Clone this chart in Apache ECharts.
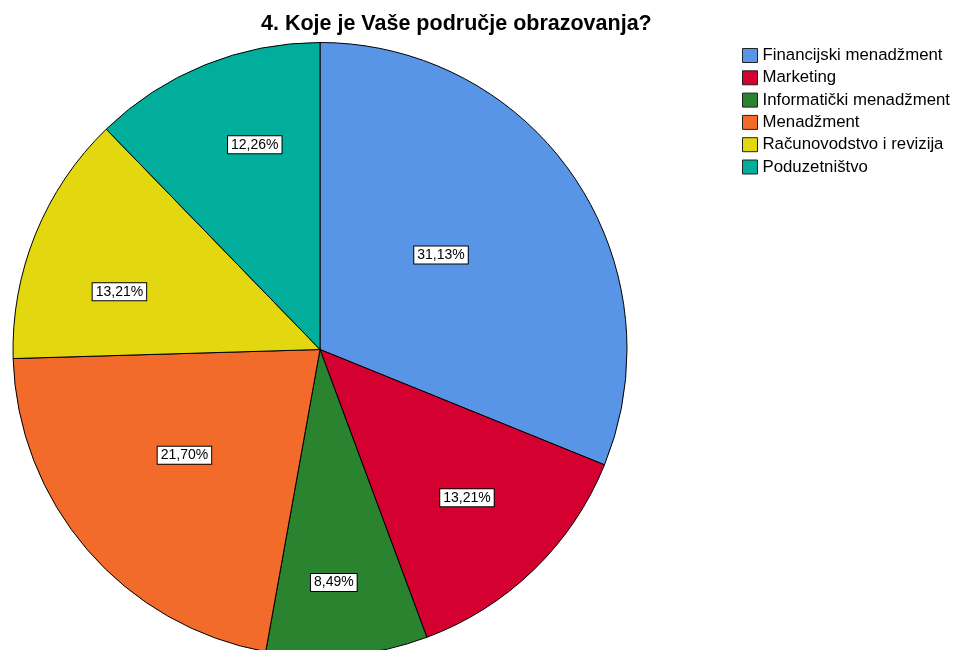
<!DOCTYPE html>
<html>
<head>
<meta charset="utf-8">
<script src="https://cdn.jsdelivr.net/npm/echarts@6/dist/echarts.min.js"></script>
<style>html,body{margin:0;padding:0;background:#fff;}#c{width:959px;height:650px;}</style>
</head>
<body>
<div id="c"></div>
<script>
var titleText = '4. Koje je Vaše područje obrazovanja?';
var categories = ['Financijski menadžment', 'Marketing', 'Informatički menadžment', 'Menadžment', 'Računovodstvo i revizija', 'Poduzetništvo'];
var percentages = [31.13, 13.21, 8.49, 21.70, 13.21, 12.26];

// styles (kept separate from data)
var colors = ['#5895E6', '#D40030', '#2A832E', '#F26B2B', '#E3D70F', '#00AE9B'];
var labelRadiusFrac = [0.50, 0.68, 0.76, 0.56, 0.68, 0.70];
var labelAngleOffsetDeg = [-4, -0.6, 1.7, 2.8, -6, 4.4];
var CX = 320, CY = 349.5, R = 307;

var total = percentages.reduce(function (a, b) { return a + b; }, 0);
var cum = [];
var acc = 0;
for (var i = 0; i < percentages.length; i++) { cum.push(acc + percentages[i] / 2); acc += percentages[i]; }

var chart = echarts.init(document.getElementById('c'), null, { renderer: 'canvas' });
chart.setOption({
  animation: false,
  backgroundColor: '#ffffff',
  title: {
    text: titleText,
    left: 261, top: 13, padding: 0,
    textStyle: { fontFamily: 'Liberation Sans, Arial, sans-serif', fontWeight: 'bold', fontSize: 21.5, color: '#000' }
  },
  legend: {
    orient: 'vertical',
    left: 742, top: 47, padding: 0,
    itemWidth: 15, itemHeight: 14, itemGap: 5.3,
    icon: 'rect',
    textStyle: { fontFamily: 'Liberation Sans, Arial, sans-serif', fontSize: 16.8, lineHeight: 16, color: '#000', padding: [0, 0, 0, 0] },
    itemStyle: { borderColor: '#222', borderWidth: 1 },
    data: categories
  },
  series: [{
    type: 'pie',
    center: [CX, CY],
    radius: R,
    startAngle: 90,
    clockwise: true,
    avoidLabelOverlap: false,
    itemStyle: { borderColor: '#000', borderWidth: 1 },
    emphasis: { disabled: true },
    label: {
      show: true,
      position: 'inside',
      formatter: function (p) { return p.value.toFixed(2).replace('.', ',') + '%'; },
      fontFamily: 'Liberation Sans, Arial, sans-serif',
      fontSize: 14,
      color: '#000',
      backgroundColor: '#fff',
      borderColor: '#000',
      borderWidth: 1,
      padding: [2, 3, 1, 3]
    },
    labelLine: { show: false },
    labelLayout: function (p) {
      var i = p.dataIndex;
      var ang = (cum[i] / total) * 2 * Math.PI + labelAngleOffsetDeg[i] * Math.PI / 180;
      var d = labelRadiusFrac[i] * R;
      return { x: CX + d * Math.sin(ang), y: CY - d * Math.cos(ang), align: 'center', verticalAlign: 'middle' };
    },
    data: categories.map(function (c, i) { return { name: c, value: percentages[i], itemStyle: { color: colors[i] } }; })
  }]
});
</script>
</body>
</html>
